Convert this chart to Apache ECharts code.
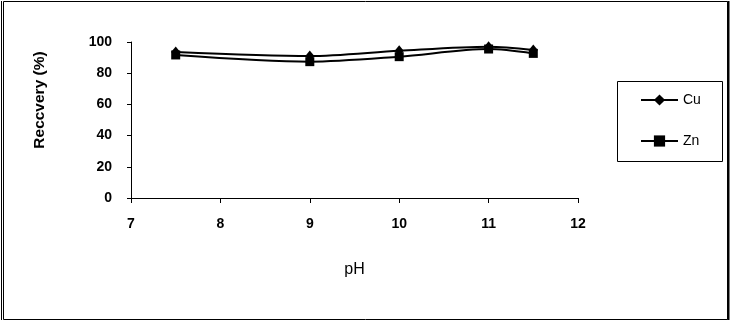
<!DOCTYPE html>
<html><head><meta charset="utf-8">
<script src="https://cdn.jsdelivr.net/npm/echarts@6/dist/echarts.min.js"></script>
<style>html,body{margin:0;padding:0;background:#fff}#c{width:732px;height:322px}</style>
</head><body><div id="c"></div>
<script>
const pH = [7.5, 9, 10, 11, 11.5];
const cu = [93.6, 91, 94.4, 97, 94.9];
const zn = [91.7, 87.4, 90.6, 95.5, 92.7];
const yTitle = 'Reccvery (%)';
const font = 'Liberation Sans, Arial, sans-serif';
const chart = echarts.init(document.getElementById('c'));
chart.setOption({
  animation: false,
  backgroundColor: '#fff',
  grid: {left: 131, right: 154, top: 42, bottom: 124},
  xAxis: {type: 'value', min: 7, max: 12, interval: 1, name: 'pH', nameLocation: 'middle', nameGap: 64,
    nameTextStyle: {fontFamily: font, fontSize: 16, color: '#000'},
    axisLine: {lineStyle: {color: '#000', width: 1}}, axisTick: {length: 5, lineStyle: {color: '#000'}},
    axisLabel: {fontFamily: font, fontSize: 14, color: '#000', fontWeight: 'bold', margin: 19}, splitLine: {show: false}},
  yAxis: {type: 'value', min: 0, max: 100, interval: 20,
    axisLine: {show: true, lineStyle: {color: '#000', width: 1}}, axisTick: {show: true, length: 4, lineStyle: {color: '#000'}},
    axisLabel: {fontFamily: font, fontSize: 14, color: '#000', fontWeight: 'bold', margin: 19}, splitLine: {show: false}},
  legend: {orient: 'vertical', left: 617, top: 81, padding: [12, 25, 13, 23],
    borderWidth: 0, itemGap: 27, itemWidth: 37, itemHeight: 14,
    textStyle: {fontFamily: font, fontSize: 14, color: '#000'},
    data: ['Cu', 'Zn']},
  graphic: [
    {type: 'rect', shape: {x: 3.5, y: 1.5, width: 724, height: 318}, style: {fill: null, stroke: '#000', lineWidth: 1}, silent: true},
    {type: 'line', shape: {x1: 1.5, y1: 1, x2: 1.5, y2: 320}, style: {stroke: '#000', lineWidth: 1}, silent: true},
    {type: 'line', shape: {x1: 728.5, y1: 1, x2: 728.5, y2: 320}, style: {stroke: '#000', lineWidth: 2}, silent: true},
    {type: 'rect', shape: {x: 617.5, y: 81.5, width: 105, height: 80}, style: {fill: null, stroke: '#000', lineWidth: 1}, silent: true},
    {type: 'text', x: 40, y: 100, rotation: Math.PI / 2, silent: true,
      style: {text: yTitle, fontFamily: font, fontSize: 15.5, fontWeight: 'bold', fill: '#000', align: 'center', verticalAlign: 'middle'}}
  ],
  series: [
    {name: 'Cu', type: 'line', smooth: 0.3, data: pH.map((x, i) => [x, cu[i]]), symbol: 'diamond', symbolSize: [9, 11],
      lineStyle: {color: '#000', width: 2}, itemStyle: {color: '#000'}},
    {name: 'Zn', type: 'line', smooth: 0.3, data: pH.map((x, i) => [x, zn[i]]), symbol: 'rect', symbolSize: 9,
      lineStyle: {color: '#000', width: 2}, itemStyle: {color: '#000'}}
  ]
});
</script></body></html>
